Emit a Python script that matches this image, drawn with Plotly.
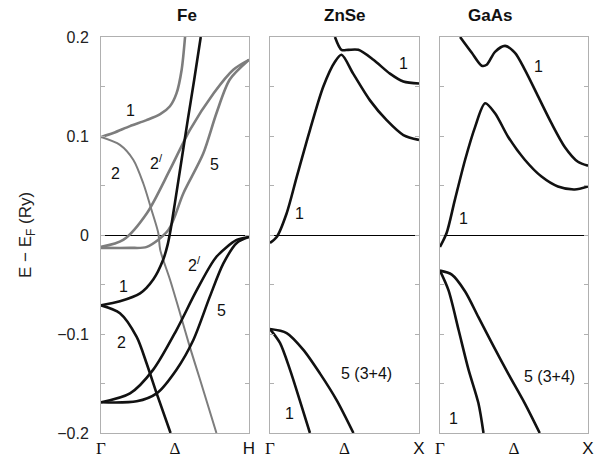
import plotly.graph_objects as go

# ---- Fe: minority (gray) bands ----
fe_g1_k = [0, 0.083, 0.196, 0.308, 0.40, 0.466, 0.51, 0.545, 0.568]
fe_g1_e = [0.099, 0.103, 0.110, 0.116, 0.122, 0.130, 0.143, 0.167, 0.2]
fe_g2_k = [0, 0.128, 0.218, 0.286, 0.342, 0.387, 0.40, 0.466, 0.534, 0.60, 0.669, 0.78]
fe_g2_e = [0.099, 0.091, 0.076, 0.052, 0.025, 0.002, -0.015, -0.045, -0.079, -0.113, -0.146, -0.2]
fe_g2p_k = [0, 0.15, 0.31, 0.466, 0.60, 0.76, 0.894, 1.0]
fe_g2p_e = [-0.012, -0.005, 0.022, 0.066, 0.106, 0.143, 0.167, 0.177]
fe_g5_k = [0, 0.196, 0.31, 0.455, 0.556, 0.69, 0.78, 0.87, 1.0]
fe_g5_e = [-0.013, -0.013, -0.012, 0.005, 0.042, 0.082, 0.123, 0.157, 0.177]

# ---- Fe: majority (black) bands ----
fe_b1_k = [0, 0.128, 0.264, 0.353, 0.42, 0.45, 0.47, 0.50, 0.527, 0.586, 0.63, 0.674]
fe_b1_e = [-0.071, -0.067, -0.059, -0.045, -0.025, -0.01, 0.005, 0.033, 0.059, 0.116, 0.157, 0.2]
fe_b2_k = [0, 0.128, 0.241, 0.309, 0.376, 0.47]
fe_b2_e = [-0.071, -0.079, -0.103, -0.13, -0.16, -0.2]
fe_b2p_k = [0, 0.196, 0.353, 0.51, 0.646, 0.78, 0.917, 1.0]
fe_b2p_e = [-0.169, -0.16, -0.136, -0.096, -0.056, -0.022, -0.005, -0.002]
fe_b5_k = [0, 0.241, 0.376, 0.51, 0.624, 0.736, 0.826, 0.917, 1.0]
fe_b5_e = [-0.169, -0.168, -0.16, -0.136, -0.106, -0.062, -0.029, -0.008, -0.002]

# ---- ZnSe ----
znse_c1_k = [0, 0.045, 0.112, 0.18, 0.268, 0.358, 0.436, 0.48, 0.558, 0.671, 0.783, 0.895, 1.0]
znse_c1_e = [-0.008, -0.002, 0.022, 0.059, 0.106, 0.15, 0.175, 0.182, 0.163, 0.136, 0.116, 0.101, 0.096]
znse_c2_k = [0.436, 0.48, 0.525, 0.593, 0.694, 0.805, 0.895, 1.0]
znse_c2_e = [0.2, 0.187, 0.187, 0.187, 0.177, 0.163, 0.155, 0.153]
znse_v5_k = [0, 0.112, 0.224, 0.336, 0.448, 0.56]
znse_v5_e = [-0.095, -0.099, -0.116, -0.14, -0.167, -0.2]
znse_v1_k = [0, 0.067, 0.134, 0.2, 0.268]
znse_v1_e = [-0.095, -0.109, -0.136, -0.167, -0.2]

# ---- GaAs ----
gaas_c1_k = [0, 0.045, 0.1, 0.17, 0.237, 0.305, 0.372, 0.461, 0.573, 0.686, 0.797, 0.91, 1.0]
gaas_c1_e = [-0.012, 0.002, 0.035, 0.076, 0.109, 0.133, 0.123, 0.099, 0.076, 0.059, 0.049, 0.046, 0.049]
gaas_c2_k = [0.136, 0.215, 0.282, 0.316, 0.372, 0.44, 0.507, 0.573, 0.663, 0.753, 0.843, 0.932, 1.0]
gaas_c2_e = [0.2, 0.184, 0.171, 0.172, 0.185, 0.191, 0.184, 0.167, 0.14, 0.113, 0.089, 0.074, 0.07]
gaas_v5_k = [0, 0.08, 0.17, 0.26, 0.35, 0.461, 0.573, 0.674]
gaas_v5_e = [-0.036, -0.04, -0.057, -0.083, -0.109, -0.14, -0.17, -0.2]
gaas_v1_k = [0, 0.058, 0.126, 0.193, 0.26, 0.294]
gaas_v1_e = [-0.036, -0.056, -0.096, -0.136, -0.17, -0.2]

panel_titles = ["Fe", "ZnSe", "GaAs"]
y_tickvals = [-0.2, -0.15, -0.1, -0.05, 0, 0.05, 0.1, 0.15, 0.2]
y_ticktext = ["\u22120.2", "", "\u22120.1", "", "0", "", "0.1", "", "0.2"]
serif = '<span style="font-family:Liberation Serif">%s</span>'
fe_xticks = [serif % "\u0393", serif % "\u0394", "H"]
semi_xticks = [serif % "\u0393", serif % "\u0394", "X"]

GRAY = "#7d7d7d"
BLACK = "#111111"
FONT = "Liberation Sans, Arial, sans-serif"

fig = go.Figure()


def band(k, e, ax, color, width=2.6):
    fig.add_trace(go.Scatter(x=k, y=e, mode="lines", xaxis="x" + ax, yaxis="y" + ax,
                             line=dict(color=color, width=width, shape="spline", smoothing=0.8),
                             showlegend=False, hoverinfo="skip"))


band(fe_g2_k, fe_g2_e, "", GRAY, 2.0)
band(fe_g1_k, fe_g1_e, "", GRAY)
band(fe_g2p_k, fe_g2p_e, "", GRAY)
band(fe_g5_k, fe_g5_e, "", GRAY)
band(fe_b1_k, fe_b1_e, "", BLACK)
band(fe_b2_k, fe_b2_e, "", BLACK)
band(fe_b2p_k, fe_b2p_e, "", BLACK)
band(fe_b5_k, fe_b5_e, "", BLACK)

band(znse_c1_k, znse_c1_e, "2", BLACK)
band(znse_c2_k, znse_c2_e, "2", BLACK)
band(znse_v5_k, znse_v5_e, "2", BLACK)
band(znse_v1_k, znse_v1_e, "2", BLACK)

band(gaas_c1_k, gaas_c1_e, "3", BLACK)
band(gaas_c2_k, gaas_c2_e, "3", BLACK)
band(gaas_v5_k, gaas_v5_e, "3", BLACK)
band(gaas_v1_k, gaas_v1_e, "3", BLACK)

domains = [[0, 0.3039], [0.347, 0.653], [0.696, 1.0]]
frame = dict(showline=True, linecolor="#b0b0b0", linewidth=1, mirror="ticks", showgrid=False)
layout = dict(width=606, height=464, plot_bgcolor="white", paper_bgcolor="white",
              margin=dict(l=101, r=18, t=37, b=31, autoexpand=False),
              font=dict(family=FONT, size=16, color="#222"))
for i, dom in enumerate(domains):
    sfx = "" if i == 0 else str(i + 1)
    layout["xaxis" + sfx] = dict(domain=dom, range=[0, 1], tickvals=[0, 0.5, 1],
                                 ticktext=fe_xticks if i == 0 else semi_xticks, ticks="",
                                 tickfont=dict(size=17, color="#111"), zeroline=False,
                                 anchor="y" + sfx, **frame)
    layout["yaxis" + sfx] = dict(range=[-0.2, 0.2], tickvals=y_tickvals, ticktext=y_ticktext,
                                 ticks="inside", ticklen=4, tickcolor="#b0b0b0",
                                 showticklabels=(i == 0), zeroline=True, zerolinecolor="#000",
                                 zerolinewidth=1, anchor="x" + sfx, tickfont=dict(size=16),
                                 ticklabelstandoff=8, **frame)
fig.update_layout(**layout)

ann = [dict(text="E \u2212 E<sub>F</sub> (Ry)", x=0, y=0.5, xref="paper", yref="paper",
            xanchor="center", yanchor="middle", xshift=-74, textangle=-90, showarrow=False,
            font=dict(size=17, color="#222"))]
for i, t in enumerate(panel_titles):
    d = domains[i]
    ann.append(dict(text="<b>%s</b>" % t, x=(d[0] + d[1]) / 2, y=1.0, xref="paper", yref="paper",
                    yshift=22, yanchor="middle", showarrow=False, font=dict(size=17, color="#111")))

labels = [
    ("", 0.196, 0.126, "1"), ("", 0.095, 0.062, "2"), ("", 0.376, 0.074, "2<sup>/</sup>"),
    ("", 0.77, 0.071, "5"), ("", 0.15, -0.052, "1"), ("", 0.14, -0.109, "2"),
    ("", 0.635, -0.029, "2<sup>/</sup>"), ("", 0.815, -0.076, "5"),
    ("2", 0.895, 0.173, "1"), ("2", 0.2, 0.022, "1"), ("2", 0.65, -0.14, "5 (3+4)"),
    ("2", 0.134, -0.18, "1"),
    ("3", 0.663, 0.17, "1"), ("3", 0.16, 0.017, "1"), ("3", 0.74, -0.143, "5 (3+4)"),
    ("3", 0.092, -0.185, "1"),
]
for ax, x, y, t in labels:
    ann.append(dict(text=t, x=x, y=y, xref="x" + ax, yref="y" + ax, showarrow=False,
                    font=dict(size=16, color="#111")))
fig.update_layout(annotations=ann)

# drop the page's default 8px body margin so the figure sits at the window corner
fig.write_html("out.html", config={"displayModeBar": False},
               post_script="document.body.style.margin = '0';")
